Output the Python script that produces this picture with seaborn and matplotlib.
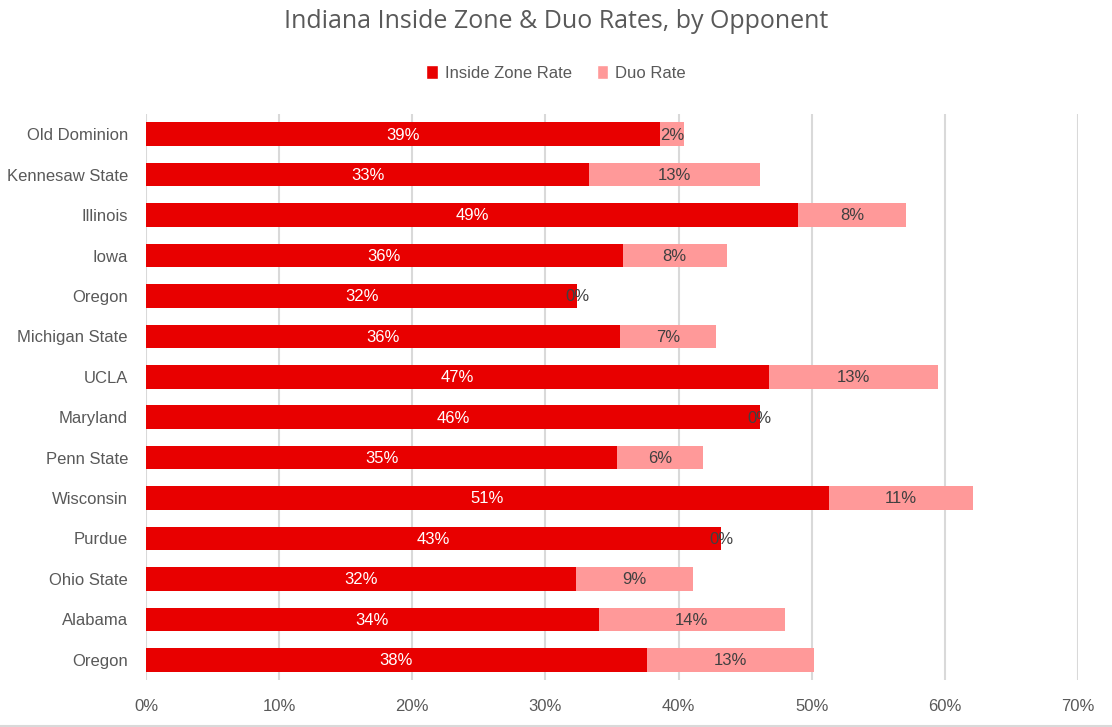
import matplotlib
matplotlib.use("Agg")
import matplotlib.pyplot as plt
import seaborn as sns
import pandas as pd
import numpy as np
from matplotlib.patches import Patch
from matplotlib.lines import Line2D

opponents = ["Old Dominion", "Kennesaw State", "Illinois", "Iowa", "Oregon",
             "Michigan State", "UCLA", "Maryland", "Penn State", "Wisconsin",
             "Purdue", "Ohio State", "Alabama", "Oregon"]
inside_zone = [38.6, 33.3, 49.0, 35.8, 32.4, 35.6, 46.8, 46.1, 35.4, 51.3, 43.2, 32.3, 34.0, 37.6]
duo = [1.8, 12.8, 8.1, 7.8, 0.0, 7.2, 12.7, 0.0, 6.4, 10.8, 0.0, 8.8, 14.0, 12.6]
x_ticks = [0, 10, 20, 30, 40, 50, 60, 70]

RED = "#E80000"
PINK = "#FF9999"
GRAY = "#595959"

df = pd.DataFrame({"Opponent": opponents, "Inside": inside_zone, "Duo": duo})
df["Game"] = [f"{i}" for i in range(len(opponents))]
df["Total"] = df["Inside"] + df["Duo"]

sns.set_theme(style="white")
plt.rcParams["font.family"] = ["Liberation Sans", "DejaVu Sans"]

fig = plt.figure(figsize=(11.12, 7.27), dpi=100)
ax = fig.add_axes([146/1112, (727-680)/727, (1078-146)/1112, (680-114)/727])

sns.barplot(data=df, y="Game", x="Total", color=PINK, orient="h",
            width=0.58, ax=ax, saturation=1, zorder=2, linewidth=0)
sns.barplot(data=df, y="Game", x="Inside", color=RED, orient="h",
            width=0.58, ax=ax, saturation=1, zorder=3, linewidth=0)

for i, (iz, d) in enumerate(zip(inside_zone, duo)):
    ax.text(iz / 2, i + 0.02, f"{round(iz):.0f}%", color="white", ha="center",
            va="center", fontsize=12, zorder=5)
    ax.text(iz + d / 2, i + 0.02, f"{round(d):.0f}%", color="#404040", ha="center",
            va="center", fontsize=12, zorder=5)

ax.set_xlim(0, 70)
ax.set_ylim(len(opponents) - 0.5, -0.5)
ax.set_xticks(x_ticks)
ax.set_xticklabels([f"{t}%" for t in x_ticks], color=GRAY, fontsize=12)
ax.set_yticks(range(len(opponents)))
ax.set_yticklabels(opponents, color=GRAY, fontsize=12)
ax.tick_params(axis="y", length=0, pad=13)
ax.tick_params(axis="x", length=0, pad=14)
ax.set_xlabel("")
ax.set_ylabel("")
ax.xaxis.grid(True, color="#D9D9D9", linewidth=1.5, zorder=0)
ax.set_axisbelow(True)
for s in ax.spines.values():
    s.set_visible(False)

fig.text(0.5, 1 - 22/727, "Indiana Inside Zone & Duo Rates, by Opponent",
         ha="center", va="center", fontsize=18, color=GRAY,
         family=["Open Sans", "DejaVu Sans"])

handles = [Patch(facecolor=RED, label="Inside Zone Rate"),
           Patch(facecolor=PINK, label="Duo Rate")]
fig.legend(handles=handles, loc="center", bbox_to_anchor=(0.5, 1 - 73/727),
           ncol=2, frameon=False, fontsize=12, handlelength=0.7,
           handleheight=0.9, handletextpad=0.4, columnspacing=1.5,
           labelcolor=GRAY)

fig.add_artist(Line2D([0, 1], [1.5/727, 1.5/727], color="#D9D9D9",
                      linewidth=1.5, transform=fig.transFigure))

fig.savefig("out.png", dpi=100)
